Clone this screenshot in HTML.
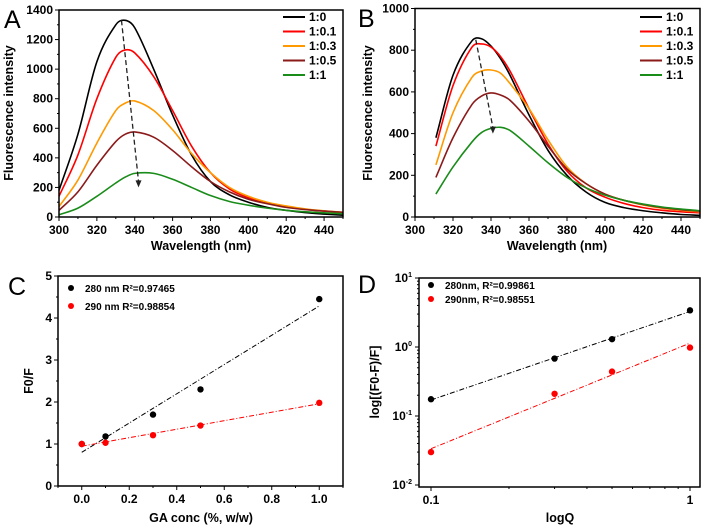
<!DOCTYPE html>
<html><head><meta charset="utf-8"><style>
body{margin:0;background:#fff}
svg{display:block;font-family:"Liberation Sans",sans-serif;font-weight:bold}
</style></head><body>
<svg id="s" width="704" height="529" viewBox="0 0 704 529"></svg>
<script>
const wlA=[300,310,320,330,335,340,350,360,370,380,390,400,410,420,430,440,450];
const a0=[180,560,1050,1300,1330,1280,1000,690,420,240,150,100,65,45,30,20,12];
const a01=[140,420,800,1080,1130,1110,950,720,480,300,190,130,95,70,52,40,30];
const a03=[70,250,500,720,770,785,720,590,430,300,200,140,100,75,55,42,32];
const a05=[45,170,350,510,560,575,540,450,340,240,170,120,90,65,50,40,32];
const a1=[15,60,140,230,270,295,295,255,200,145,105,80,60,45,35,28,22];
const wlB=[311,320,330,335,340,345,350,360,370,380,390,400,410,420,430,440,450];
const b0=[380,680,845,855,820,760,680,490,320,200,120,70,45,30,20,12,8];
const b01=[340,630,815,830,815,770,700,520,350,220,140,95,65,45,32,25,20];
const b03=[250,500,670,700,705,690,640,520,370,240,160,110,80,58,42,32,25];
const b05=[190,380,540,580,595,585,560,460,340,230,160,110,80,60,45,35,28];
const b1=[110,240,360,405,425,430,415,340,260,190,140,105,80,62,48,38,30];
const ratioLabels=["1:0","1:0.1","1:0.3","1:0.5","1:1"];
const colors=["#000","#f00","#ff9900","#8b1a1a","#1a8c1a"];
const concX=[0,0.1,0.3,0.5,1];
const c280=[1.0,1.18,1.7,2.3,4.45];
const c290=[1.0,1.03,1.21,1.44,1.98];
const qX=[0.1,0.3,0.5,1];
const d280=[0.175,0.68,1.3,3.4];
const d290=[0.03,0.21,0.44,0.98];

const S=document.getElementById('s');const NS="http://www.w3.org/2000/svg";
function el(t,a,p){const e=document.createElementNS(NS,t);for(const k in a)e.setAttribute(k,a[k]);(p||S).appendChild(e);return e;}
function txt(x,y,s,o,p){const e=el('text',Object.assign({x:x,y:y,'font-size':12,'text-anchor':'middle',fill:'#000'},o||{}),p);e.textContent=s;return e;}
function lin(d0,d1,r0,r1){return v=>r0+(v-d0)/(d1-d0)*(r1-r0);}
function lg(d0,d1,r0,r1){return v=>r0+(Math.log10(v)-Math.log10(d0))/(Math.log10(d1)-Math.log10(d0))*(r1-r0);}
function smooth(pts){const n=pts.length;const m=pts.map((p,i)=>{const a=pts[Math.max(0,i-1)],b=pts[Math.min(n-1,i+1)];return (b[1]-a[1])/(b[0]-a[0]);});
 let d="M"+pts[0][0]+","+pts[0][1];
 for(let i=0;i<n-1;i++){const p1=pts[i],p2=pts[i+1],h=p2[0]-p1[0];
  d+=" C"+(p1[0]+h/3)+","+(p1[1]+m[i]*h/3)+" "+(p2[0]-h/3)+","+(p2[1]-m[i+1]*h/3)+" "+p2[0]+","+p2[1];}return d;}
function frame(x0,y0,x1,y1,name){const r=el('rect',{x:x0,y:y0,width:x1-x0,height:y1-y0,fill:'none',stroke:'#000','stroke-width':1.5});}
function xticksLin(X,x0,x1,yb,major,minor,fmt,name){const g=el('g',{});
 for(let v=x0;v<=x1+1e-9;v+=minor){const isM=Math.abs(Math.round(v/major)*major-v)<1e-6;el('line',{x1:X(v),x2:X(v),y1:yb,y2:yb+(isM?4:2),stroke:'#000'},g);}
 for(let v=Math.ceil(x0/major-1e-9)*major;v<=x1+1e-9;v+=major)txt(X(v),yb+17,fmt(v),{},g);}
function yticksLin(Y,y0,y1,xl,major,fmt,name){const g=el('g',{});
 for(let v=y0;v<=y1+1e-9;v+=major/2){const isM=Math.abs(Math.round(v/major)*major-v)<1e-6;el('line',{x1:xl,x2:xl-(isM?4:2),y1:Y(v),y2:Y(v),stroke:'#000'},g);}
 for(let v=y0;v<=y1+1e-9;v+=major)txt(xl-6,Y(v)+4,fmt(v),{'text-anchor':'end'},g);}
function spectrum(wl,series,X,Y,lx,ly,name){
 series.forEach((vals,i)=>{const p=el('path',{d:smooth(wl.map((w,j)=>[X(w),Y(vals[j])])),fill:'none',stroke:colors[i],'stroke-width':1.6});
 
 const g=el('g',{});
 el('line',{x1:lx,x2:lx+22,y1:ly+i*14.5,y2:ly+i*14.5,stroke:colors[i],'stroke-width':2},g);txt(lx+26,ly+i*14.5+4,ratioLabels[i],{'text-anchor':'start'},g);});}
function arrow(x1,y1,x2,y2,name){const g=el('g',{});
 el('line',{x1:x1,y1:y1,x2:x2,y2:y2-6,stroke:'#222','stroke-width':1.3,'stroke-dasharray':'5,3'},g);
 el('polygon',{points:(x2-3)+","+(y2-7)+" "+(x2+3)+","+(y2-7)+" "+x2+","+y2,fill:'#222'},g);}
function panelLabel(x,y,s){const t=txt(x,y,s,{'font-size':25,'font-weight':'normal','text-anchor':'start'});}
function title(x,y,s,name,rot){const t=txt(x,y,s,Object.assign({'font-size':12.5},rot?{transform:'rotate(-90 '+x+' '+y+')'}:{}));}
function reg(xs,ys){const n=xs.length,mx=xs.reduce((a,b)=>a+b)/n,my=ys.reduce((a,b)=>a+b)/n;let sxy=0,sxx=0;xs.forEach((x,i)=>{sxy+=(x-mx)*(ys[i]-my);sxx+=(x-mx)**2});const m=sxy/sxx;return [m,my-m*mx];}

// Panel A
{const X=lin(300,450,59,343),Y=lin(0,1400,217,10);
panelLabel(4,28,"A");
spectrum(wlA,[a0,a01,a03,a05,a1],X,Y,283,17,'a');
arrow(X(333),Y(1330),X(342),Y(200),'a-arrow');
frame(59,10,343,217,'a-plot-frame');
xticksLin(X,300,450,217,20,10,v=>v,'a-x-axis');
yticksLin(Y,0,1400,59,200,v=>v,'a-y-axis');
title(201,250,"Wavelength (nm)",'a-x-axis-title');
title(13,113,"Fluorescence intensity",'a-y-axis-title',true);}
// Panel B
{const X=lin(300,450,415,700),Y=lin(0,1000,217,8.5);
panelLabel(358,27,"B");
spectrum(wlB,[b0,b01,b03,b05,b1],X,Y,640,17,'b');
arrow(X(332),Y(850),X(341),Y(400),'b-arrow');
frame(415,8.5,700,217,'b-plot-frame');
xticksLin(X,300,450,217,20,10,v=>v,'b-x-axis');
yticksLin(Y,0,1000,415,200,v=>v,'b-y-axis');
title(557,250,"Wavelength (nm)",'b-x-axis-title');
title(372,113,"Fluorescence intensity",'b-y-axis-title',true);}
// Panel C
{const X=lin(-0.1,1.1,58,343),Y=lin(0,5,486,276);
panelLabel(8,295,"C");
[[c280,'#000','280'],[c290,'#f00','290']].forEach(([ys,c,n],k)=>{const [m,b]=reg(concX,ys);
 const l=el('line',{x1:X(0),y1:Y(b),x2:X(1),y2:Y(m+b),stroke:c,'stroke-width':1,'stroke-dasharray':'5,2,1,2'});
 ys.forEach((v,i)=>{const p=el('circle',{cx:X(concX[i]),cy:Y(v),r:3.2,fill:c});});});
const lg1=el('g',{});
el('circle',{cx:71,cy:288,r:3,fill:'#000'},lg1);txt(85,292,"280 nm R²=0.97465",{'text-anchor':'start','font-size':10},lg1);
el('circle',{cx:71,cy:306,r:3,fill:'#f00'},lg1);txt(85,310,"290 nm R²=0.98854",{'text-anchor':'start','font-size':10},lg1);
frame(58,276,343,486,'c-plot-frame');
xticksLin(X,-0.1,1.1,486,0.2,0.1,v=>v.toFixed(1),'c-x-axis');
yticksLin(Y,0,5,58,1,v=>v,'c-y-axis');
title(201,522,"GA conc (%, w/w)",'c-x-axis-title');
title(33,381,"F0/F",'c-y-axis-title',true);}
// Panel D
{const X=lg(0.1,1,431,690),Y=lg(0.01,10,485,278);
panelLabel(358,293,"D");
[[d280,'#000','280'],[d290,'#f00','290']].forEach(([ys,c,n])=>{const [m,b]=reg(qX.map(Math.log10),ys.map(Math.log10));
 const l=el('line',{x1:X(0.1),y1:Y(10**(b-m)),x2:X(1),y2:Y(10**b),stroke:c,'stroke-width':1,'stroke-dasharray':'5,2,1,2'});
 ys.forEach((v,i)=>{const p=el('circle',{cx:X(qX[i]),cy:Y(v),r:3.2,fill:c});});});
const lg2=el('g',{});
el('circle',{cx:431,cy:285,r:3,fill:'#000'},lg2);txt(445,289,"280nm, R²=0.99861",{'text-anchor':'start','font-size':10},lg2);
el('circle',{cx:431,cy:299,r:3,fill:'#f00'},lg2);txt(445,303,"290nm, R²=0.98551",{'text-anchor':'start','font-size':10},lg2);
frame(419,278,700,487,'d-plot-frame');
const gx=el('g',{});
[0.1,0.2,0.3,0.4,0.5,0.6,0.7,0.8,0.9,1].forEach(v=>{const M=(v===0.1||v===1);el('line',{x1:X(v),x2:X(v),y1:487,y2:487+(M?4:2),stroke:'#000'},gx);});
txt(X(0.1),504,"0.1",{},gx);txt(X(1),504,"1",{},gx);
const gy=el('g',{});
[-2,-1,0,1].forEach(e=>{el('line',{x1:419,x2:415,y1:Y(10**e),y2:Y(10**e),stroke:'#000'},gy);
 const t=txt(412,Y(10**e)+4,"10",{'text-anchor':'end'},gy);const s=el('tspan',{dy:-5,'font-size':7},t);s.textContent=e;
 if(e<1)for(let k=2;k<10;k++)el('line',{x1:419,x2:417,y1:Y(k*10**e),y2:Y(k*10**e),stroke:'#000'},gy);});
title(560,522,"logQ",'d-x-axis-title');
title(379,382,"log[(F0-F)/F]",'d-y-axis-title',true);}
</script>
</body></html>
